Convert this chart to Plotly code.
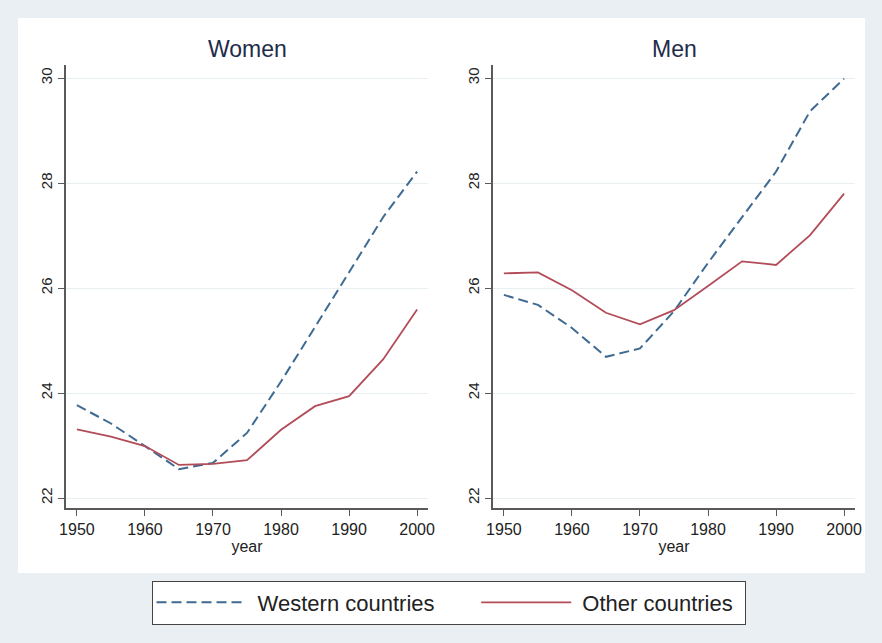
import plotly.graph_objects as go
from plotly.subplots import make_subplots

years = [1950, 1955, 1960, 1965, 1970, 1975, 1980, 1985, 1990, 1995, 2000]

women_western = [23.77, 23.42, 22.99, 22.55, 22.67, 23.24, 24.22, 25.25, 26.3, 27.35, 28.22]
women_other = [23.31, 23.17, 22.99, 22.63, 22.65, 22.72, 23.3, 23.75, 23.94, 24.64, 25.59]
men_western = [25.87, 25.68, 25.24, 24.69, 24.85, 25.56, 26.48, 27.35, 28.22, 29.37, 29.99]
men_other = [26.28, 26.30, 25.96, 25.53, 25.31, 25.58, 26.04, 26.51, 26.44, 27.01, 27.8]

panel_titles = ["Women", "Men"]
series_names = ["Western countries", "Other countries"]
x_ticks = [1950, 1960, 1970, 1980, 1990, 2000]
y_ticks = [22, 24, 26, 28, 30]

W, H = 882, 643
BLUE = "#3f6a91"
RED = "#b24c58"
FONT = "Arial, Liberation Sans, sans-serif"
NB = "\u00a0"  # spacing inside legend entries

fig = make_subplots(rows=1, cols=2, horizontal_spacing=0.05)

panels = [(women_western, women_other), (men_western, men_other)]
for i, (wst, oth) in enumerate(panels):
    fig.add_trace(go.Scatter(x=years, y=wst, mode="lines", name=NB + series_names[0] + NB * 6,
                             line=dict(color=BLUE, width=2, dash="10px,5px"),
                             showlegend=(i == 0), legendgroup="w"), row=1, col=i + 1)
    fig.add_trace(go.Scatter(x=years, y=oth, mode="lines", name=NB + series_names[1] + NB,
                             line=dict(color=RED, width=1.8),
                             showlegend=(i == 0), legendgroup="o"), row=1, col=i + 1)

x_domains = [[66 / W, 428 / W], [493 / W, 855 / W]]
y_domain = [1 - 508 / H, 1 - 65 / H]

for i in range(2):
    xa = "xaxis" if i == 0 else "xaxis2"
    ya = "yaxis" if i == 0 else "yaxis2"
    fig.layout[xa].update(domain=x_domains[i], range=[1948.4, 2001.6], tickvals=x_ticks,
                          showgrid=False, zeroline=False, showline=True, linecolor="#5a5a5a",
                          linewidth=1.5, ticks="outside", ticklen=6, tickcolor="#5a5a5a",
                          tickwidth=1.2, tickfont=dict(size=16, color="#222", family=FONT),
                          title=dict(text="year", font=dict(size=16, color="#222", family=FONT),
                                     standoff=0),
                          automargin=False)
    fig.layout[ya].update(domain=y_domain, range=[21.81, 30.25], tickvals=y_ticks,
                          showgrid=True, gridcolor="#e9f0f2", gridwidth=1.2, zeroline=False,
                          showline=True, linecolor="#5a5a5a", linewidth=1.5, ticks="outside",
                          ticklen=6, tickcolor="#5a5a5a", tickwidth=1.2, tickangle=-90,
                          tickfont=dict(size=15, color="#222", family=FONT), automargin=False)

# white plot region
fig.add_shape(type="rect", xref="paper", yref="paper", x0=18 / W, x1=865 / W,
              y0=1 - 573 / H, y1=1 - 18 / H, fillcolor="white", line=dict(width=0),
              layer="below")

for i, t in enumerate(panel_titles):
    cx = (x_domains[i][0] + x_domains[i][1]) / 2
    fig.add_annotation(text=t, xref="paper", yref="paper", x=cx, y=1 - 49 / H,
                       showarrow=False, font=dict(size=23, color="#1e2c4a", family=FONT),
                       xanchor="center", yanchor="middle")

fig.update_layout(
    width=W, height=H,
    margin=dict(l=0, r=0, t=0, b=0),
    paper_bgcolor="#e9eff2",
    plot_bgcolor="white",
    font=dict(family=FONT),
    showlegend=True,
    legend=dict(orientation="h", x=448.5 / W, xanchor="center", y=1 - 602.5 / H,
                yanchor="middle", bgcolor="white", bordercolor="#444", borderwidth=1,
                font=dict(size=22, color="#222", family=FONT), itemwidth=90),
)

fig.write_html("out.html", config={"displayModeBar": False},
               post_script="document.body.style.margin='0';document.body.style.background='#e9eff2';")
